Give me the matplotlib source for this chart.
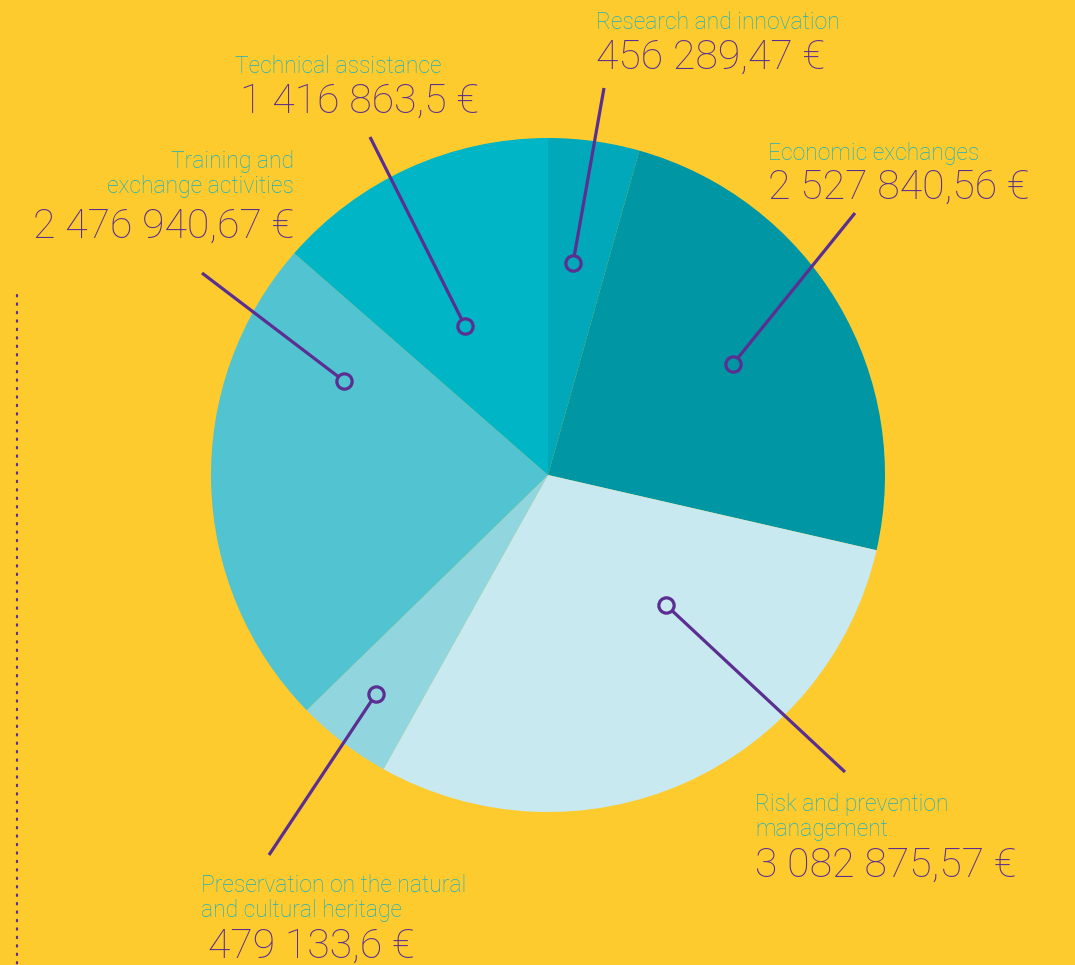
import matplotlib
matplotlib.use('Agg')
import matplotlib.pyplot as plt

plt.rcParams['font.family'] = ['Roboto', 'DejaVu Sans']

# data
categories = ['Research and innovation', 'Economic exchanges', 'Risk and prevention\nmanagement',
              'Preservation on the natural\nand cultural heritage', 'Training and\nexchange activities',
              'Technical assistance']
values = [456289.47, 2527840.56, 3082875.57, 479133.6, 2476940.67, 1416863.5]
value_labels = ['456 289,47 €', '2 527 840,56 €', '3 082 875,57 €', '479 133,6 €',
                '2 476 940,67 €', '1 416 863,5 €']

# style
BG = '#fdcb2e'
PURPLE = '#5b2e91'
CYAN = '#1bafbf'
colors = ['#00a8ba', '#0096a3', '#c8e9ef', '#91d6df', '#52c3d0', '#00b5c6']

# layout (pixel coords, y downward); y is the baseline of the last line
CENTER = (548, 475)
RADIUS = 337
# (label x, label y, value x, value y, align, line start, marker)
layout = [
    (596, 29, 596, 69, 'left', (604, 88), (573, 263)),
    (768, 160, 768, 199, 'left', (855, 213), (733, 364)),
    (755, 836, 755, 877, 'left', (845, 772), (666, 605)),
    (201, 917, 208, 958, 'left', (269, 855), (376, 694)),
    (294, 193, 294, 238, 'right', (202, 273), (344, 381)),
    (235, 73, 240, 113, 'left', (370, 137), (465, 326)),
]

fig = plt.figure(figsize=(10.75, 9.65), dpi=100, facecolor=BG)
ax = fig.add_axes([0, 0, 1, 1])
ax.set_facecolor(BG)

wedges, _ = ax.pie(values, colors=colors, center=CENTER, radius=RADIUS,
                   startangle=-90, counterclock=True,
                   wedgeprops=dict(linewidth=0))

for i, (lx, ly, vx, vy, ha, p0, p1) in enumerate(layout):
    ax.text(lx, ly, categories[i], color=CYAN, fontsize=16.5, fontweight='light',
            ha=ha, va='baseline', linespacing=1.1, multialignment=ha)
    ax.text(vx, vy, value_labels[i], color=PURPLE, fontsize=29.5, fontweight='light',
            ha=ha, va='baseline')
    ax.plot([p0[0], p1[0]], [p0[1], p1[1]], color=PURPLE, lw=2.3, solid_capstyle='butt', zorder=5)
    ax.plot(p1[0], p1[1], 'o', ms=11, mfc=colors[i], mec=PURPLE, mew=2.3, zorder=6)

# dotted vertical line on the left
ax.plot([17, 17], [295, 965], color=PURPLE, lw=1.6, linestyle=(0, (0.6, 3.2)),
        dash_capstyle='round', zorder=4)

ax.set_xlim(0, 1075)
ax.set_ylim(965, 0)
ax.set_aspect('equal')
ax.axis('off')

fig.savefig('out.png', dpi=100, facecolor=BG)
